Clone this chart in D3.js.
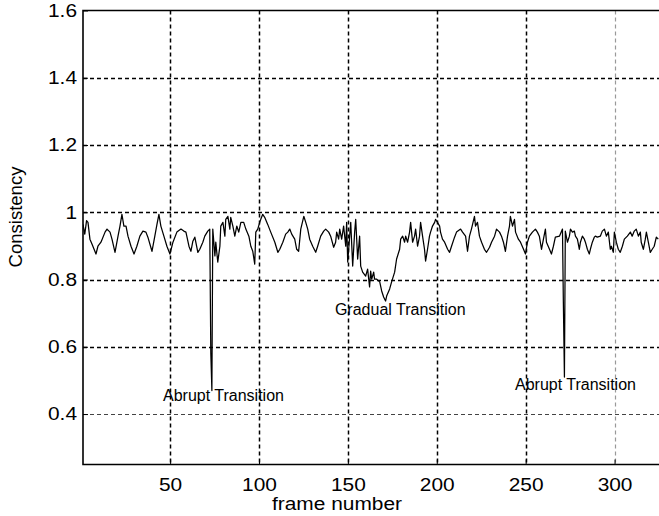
<!DOCTYPE html>
<html>
<head>
<meta charset="utf-8">
<script src="https://cdn.jsdelivr.net/npm/d3@7"></script>
<style>
  html, body { margin: 0; padding: 0; background: #fff; }
  svg { display: block; }
  text { font-family: "Liberation Sans", Arial, Helvetica, sans-serif; fill: #000; }
</style>
</head>
<body>
<svg id="chart"></svg>
<script>
let width = 659;
let height = 516;

// frame numbers and consistency, ten per row
let frames = [
  1, 2, 3, 3.8, 4.9, 6.1, 8.3, 9.4, 11.1, 13.4,
  14.5, 16.2, 17.3, 19.0, 20.7, 21.8, 22.9, 24.0, 25.2, 26.3,
  28.0, 29.7, 31.3, 33.0, 34.7, 36.4, 37.5, 39.8, 41.4, 42.6,
  43.7, 44.8, 46.5, 48.2, 49.9, 51.6, 53.8, 56.1, 57.7, 58.9,
  60.6, 61.7, 62.8, 63.9, 65.6, 66.7, 68.4, 69.5, 71.2, 72.3,
  72.9, 73.5, 74.0, 75.2, 75.7, 76.8, 78.0, 78.5, 79.7, 80.8,
  81.3, 82.5, 83.6, 84.1, 85.3, 86.4, 87.5, 88.6, 89.8, 91.4,
  92.6, 94.3, 95.4, 96.5, 97.6, 98.2, 99.3, 100.4, 101.0, 102.1,
  103.2, 104.9, 106.6, 108.9, 110.6, 111.7, 113.4, 115.0, 116.2, 117.3,
  118.4, 120.1, 121.2, 122.3, 123.5, 125.2, 126.3, 127.4, 128.5, 130.2,
  131.9, 133.0, 134.7, 136.4, 137.5, 139.2, 140.3, 142.0, 143.1, 143.7,
  144.8, 145.4, 146.5, 147.6, 148.8, 149.3, 149.9, 151.0, 151.6, 152.7,
  153.8, 154.4, 155.5, 156.6, 157.2, 158.3, 160.0, 161.1, 162.2, 162.8,
  163.4, 164.5, 165.0, 166.2, 167.9, 169.0, 170.1, 171.2, 171.8, 173.5,
  174.6, 176.3, 177.4, 179.1, 179.7, 180.8, 181.9, 182.5, 183.6, 184.7,
  185.3, 186.4, 187.5, 188.1, 189.2, 190.3, 190.9, 192.0, 193.1, 193.7,
  194.8, 195.9, 196.5, 197.6, 198.8, 199.3, 200.4, 201.6, 202.1, 203.2,
  204.4, 206.1, 207.2, 208.3, 210.0, 211.1, 213.4, 214.5, 216.2, 217.3,
  218.4, 219.5, 221.2, 221.8, 222.9, 224.0, 225.2, 226.8, 228.0, 229.7,
  230.8, 232.5, 233.6, 235.3, 236.4, 237.5, 238.6, 239.8, 240.9, 241.4,
  242.6, 243.7, 244.3, 245.9, 247.1, 248.8, 249.9, 251.0, 252.1, 253.8,
  255.5, 256.6, 257.7, 258.9, 260.0, 261.1, 261.7, 263.4, 264.5, 265.6,
  266.7, 269.0, 270.7, 271.2, 271.8, 272.3, 273.5, 274.6, 275.2, 276.3,
  277.4, 278.0, 279.1, 280.2, 280.8, 281.9, 283.0, 283.6, 284.7, 285.8,
  286.4, 287.5, 288.6, 289.2, 290.3, 292.0, 293.1, 294.3, 295.4, 296.5,
  297.6, 298.2, 299.3, 299.9, 301.0, 302.1, 303.2, 304.4, 305.5, 307.2,
  308.9, 309.9, 311.1, 312.2, 313.4, 314.5, 315.0, 316.2, 317.3, 317.9,
  319.0, 320.1, 321.2, 322.3, 323.5, 324.6
];
let consistency = [
  .964, .935, .975, .970, .920, .905, .876, .899, .911, .941,
  .950, .941, .920, .881, .929, .959, .994, .959, .959, .929,
  .899, .876, .899, .929, .944, .941, .926, .884, .929, .964,
  .994, .959, .929, .899, .876, .911, .941, .950, .944, .941,
  .899, .884, .914, .926, .881, .890, .911, .929, .944, .950,
  .580, .470, .950, .870, .911, .852, .899, .959, .970, .929,
  .979, .988, .950, .985, .959, .929, .959, .941, .970, .970,
  .950, .929, .899, .884, .846, .941, .950, .970, .979, .994,
  .985, .964, .941, .911, .881, .890, .911, .935, .941, .950,
  .935, .920, .890, .884, .950, .988, .970, .950, .920, .899,
  .881, .899, .929, .944, .950, .941, .929, .896, .911, .941,
  .920, .950, .920, .959, .899, .970, .852, .929, .970, .840,
  .941, .979, .861, .929, .840, .822, .810, .831, .778, .825,
  .801, .822, .801, .801, .793, .766, .748, .736, .751, .772,
  .793, .822, .861, .890, .920, .929, .911, .929, .911, .941,
  .970, .911, .929, .950, .899, .929, .970, .929, .890, .855,
  .890, .929, .941, .959, .970, .979, .970, .959, .941, .920,
  .911, .890, .881, .899, .926, .941, .950, .941, .929, .884,
  .929, .950, .988, .959, .970, .929, .911, .890, .881, .896,
  .911, .929, .950, .941, .929, .911, .884, .929, .959, .988,
  .959, .979, .941, .920, .911, .890, .876, .911, .929, .941,
  .950, .941, .929, .890, .920, .950, .911, .890, .876, .899,
  .926, .929, .950, .733, .510, .944, .911, .929, .950, .941,
  .944, .929, .920, .890, .911, .929, .920, .911, .890, .876,
  .890, .911, .926, .929, .926, .929, .944, .950, .929, .941,
  .890, .899, .881, .941, .911, .890, .881, .899, .920, .929,
  .941, .929, .944, .950, .929, .941, .911, .890, .920, .941,
  .911, .881, .890, .899, .926, .920
];

let xTicks = [50, 100, 150, 200, 250, 300];
let yTicks = [0.4, 0.6, 0.8, 1, 1.2, 1.4, 1.6];
let notes = [
  {text: "Abrupt Transition", frame: 46, value: 0.454},
  {text: "Gradual Transition", frame: 142.7, value: 0.712},
  {text: "Abrupt Transition", frame: 244, value: 0.489}
];

let plotLeft = 83, plotTop = 10.5, plotBottom = 464.5;

let svg = d3.select('#chart')
  .attr('width', width)
  .attr('height', height);

let xax = d3.scaleLinear()
  .domain([1, 325])
  .range([plotLeft, width]);

let yax = d3.scaleLinear()
  .domain([0.25, 1.6])
  .range([plotBottom, plotTop]);

svg.append('clipPath').attr('id', 'plotclip')
  .append('rect')
  .attr('x', plotLeft).attr('y', plotTop)
  .attr('width', width - plotLeft).attr('height', plotBottom - plotTop);

// dashed grid; the 300 and 0.4 lines come out fainter in the original raster
let grid = svg.append('g')
  .attr('stroke-dasharray', '4,3');
grid.selectAll('.gx').data(xTicks).join('line')
  .attr('class', 'gx')
  .attr('stroke', d => d === 300 ? '#999' : '#000')
  .attr('stroke-width', d => d === 300 ? 1.2 : 1.5)
  .attr('x1', d => Math.round(xax(d)) + 0.5).attr('x2', d => Math.round(xax(d)) + 0.5)
  .attr('y1', plotTop).attr('y2', plotBottom);
grid.selectAll('.gy').data(yTicks.filter(d => d < 1.6)).join('line')
  .attr('class', 'gy')
  .attr('stroke', d => d === 0.4 ? '#444' : '#000')
  .attr('stroke-width', d => d === 0.4 ? 1 : 1.5)
  .attr('x1', plotLeft).attr('x2', width)
  .attr('y1', d => Math.round(yax(d)) + 0.5).attr('y2', d => Math.round(yax(d)) + 0.5);

// trace
let line = d3.line()
  .x(d => xax(d[0]))
  .y(d => yax(d[1]));
svg.append('path')
  .datum(frames.map((f, i) => [f, consistency[i]]))
  .attr('clip-path', 'url(#plotclip)')
  .attr('fill', 'none')
  .attr('stroke', '#000')
  .attr('stroke-width', 1.25)
  .attr('stroke-linejoin', 'round')
  .attr('d', line);

// box (left, top, bottom; right side is off the picture)
svg.append('path')
  .attr('fill', 'none')
  .attr('stroke', '#000')
  .attr('stroke-width', 1.6)
  .attr('d', `M${width},${plotTop}H${plotLeft}V${plotBottom}H${width}`);

// axes through d3, domain hidden since the box is drawn above
let xAxis = svg.append('g')
  .attr('transform', `translate(0,${plotBottom})`)
  .call(d3.axisBottom(xax).tickValues(xTicks).tickSize(-5).tickPadding(13).tickFormat(d3.format('d')));
let yAxis = svg.append('g')
  .attr('transform', `translate(${plotLeft},0)`)
  .call(d3.axisLeft(yax).tickValues(yTicks).tickSize(-5).tickPadding(6).tickFormat(d => String(d)));
[xAxis, yAxis].forEach(a => {
  a.select('.domain').remove();
  a.selectAll('line').attr('stroke', '#000').attr('stroke-width', 1);
  a.selectAll('text')
    .attr('font-family', '"Liberation Sans", Arial, sans-serif')
    .attr('font-size', 18.5)
    .attr('fill', '#000');
});
xAxis.selectAll('text')
  .style('transform-box', 'fill-box')
  .style('transform-origin', 'center')
  .style('transform', 'scaleX(1.13)');
yAxis.selectAll('text')
  .style('transform-box', 'fill-box')
  .style('transform-origin', 'right center')
  .style('transform', 'scaleX(1.13)');

// axis titles
svg.append('text')
  .attr('x', 337).attr('y', 510)
  .attr('text-anchor', 'middle')
  .attr('font-size', 18.5)
  .style('transform-box', 'fill-box')
  .style('transform-origin', 'center')
  .style('transform', 'scaleX(1.13)')
  .text('frame number');
svg.append('text')
  .attr('transform', 'translate(22,217) rotate(-90)')
  .attr('text-anchor', 'middle')
  .attr('font-size', 18.5)
  .text('Consistency');

// annotations, left aligned and vertically centred at their point
svg.append('g').selectAll('text').data(notes).join('text')
  .attr('x', d => xax(d.frame))
  .attr('y', d => yax(d.value))
  .attr('dy', '0.35em')
  .attr('font-size', 16)
  .text(d => d.text);
</script>
</body>
</html>
